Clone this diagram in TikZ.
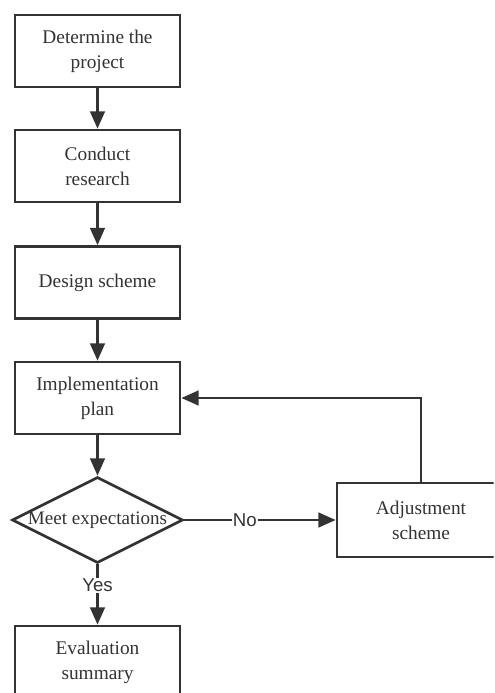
\documentclass[tikz,border=0pt]{standalone}
\usepackage{fontspec}
\setmainfont{Liberation Serif}
\newfontfamily\lblfont{Liberation Sans}
\usetikzlibrary{shapes.geometric,arrows.meta}
\definecolor{ink}{HTML}{333333}
\begin{document}
\begin{tikzpicture}[x=0.75pt,y=-0.75pt,
  box/.style={draw=ink, line width=2pt, minimum width=123.75pt, minimum height=54pt,
    inner sep=0pt, align=center, text=ink, font=\fontsize{14.5}{18.75}\selectfont},
  decision/.style={draw=ink, line width=2pt, diamond, minimum width=128.25pt, minimum height=64.5pt,
    inner sep=0pt, text=ink, font=\fontsize{14.3}{17}\selectfont},
  conn/.style={draw=ink, line width=1.9pt, -{Triangle[length=13pt,width=11pt]}},
  lbl/.style={fill=white, inner sep=1pt, text=ink, font=\lblfont\fontsize{14}{16}\selectfont}]
\useasboundingbox (0,0) rectangle (494,693);
\clip (0,0) rectangle (493.5,693);
\fill[white] (0,0) rectangle (494,693);
\node[box] (b1) at (97.5,51) {Determine the\\project};
\node[box] (b2) at (97.5,166) {Conduct\\research};
\node[box] (b3) at (97.5,282.5) {Design scheme};
\node[box] (b4) at (97.5,398) {Implementation\\plan};
\node[decision] (d) at (97.5,520) {\makebox[0pt]{Meet expectations}};
\node[box] (e) at (97.5,662) {Evaluation\\summary};
\node[box, minimum width=150pt, minimum height=55.5pt] (adj) at (437,520) {};
\node[text=ink, align=center, font=\fontsize{14.5}{18.75}\selectfont] (adjt) at (421,520) {Adjustment\\scheme};
\coordinate (c1) at (421,398);
\coordinate (c0) at (421,483);
\draw[conn] (b1) -- (b2);
\draw[conn] (b2) -- (b3);
\draw[conn] (b3) -- (b4);
\draw[conn] (b4) -- (d);
\draw[conn] (d.south) -- node[lbl, pos=0.35] {Yes} (e.north);
\draw[conn] (d.east) -- node[lbl, pos=0.4] {No} (adj.west);
\draw[conn] (c0) -- (c1) -- (b4.east |- c1);
\end{tikzpicture}
\end{document}
